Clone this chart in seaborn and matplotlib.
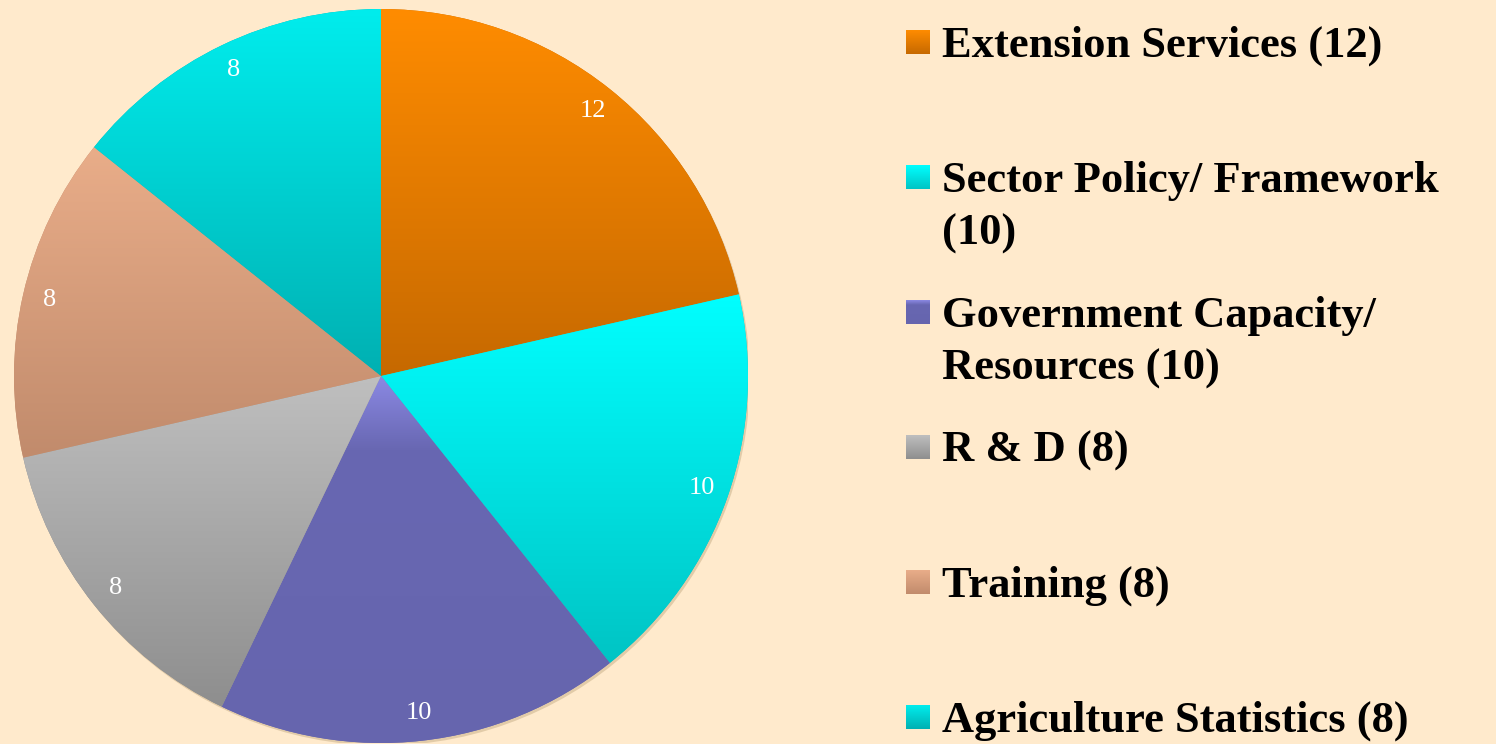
import numpy as np
import matplotlib
matplotlib.use("Agg")
import matplotlib.pyplot as plt
from matplotlib.colors import LinearSegmentedColormap
from matplotlib.patches import Circle
import seaborn as sns

categories = ["Extension Services", "Sector Policy/ Framework", "Government Capacity/ Resources",
              "R & D", "Training", "Agriculture Statistics"]
values = [12, 10, 10, 8, 8, 8]
legend_labels = ["Extension Services (12)", "Sector Policy/ Framework\n(10)",
                 "Government Capacity/\nResources (10)", "R & D (8)", "Training (8)",
                 "Agriculture Statistics (8)"]

# vertical gradient stops for each slice (top -> bottom)
gradients = [
    [(0.0, "#FF8C00"), (1.0, "#C66900")],
    [(0.0, "#00FFFF"), (1.0, "#00C4C4")],
    [(0.0, "#8B89E3"), (0.2, "#6867B2"), (1.0, "#6665AE")],
    [(0.0, "#BFBFBF"), (1.0, "#8E8E8E")],
    [(0.0, "#E9AD89"), (1.0, "#C18B6C")],
    [(0.0, "#00EDED"), (1.0, "#00B0B2")],
]
bg = "#FFEACC"

sns.set_theme(style="white")
plt.rcParams["font.family"] = ["Liberation Serif", "DejaVu Serif"]

fig = plt.figure(figsize=(14.96, 7.44), dpi=100, facecolor=bg)
ax = fig.add_axes([14 / 1496, 1 / 744, 734 / 1496, 734 / 744])
ax.set_facecolor("none")

total = sum(values)
wedges, texts, autotexts = ax.pie(
    values, startangle=90, counterclock=False, radius=1,
    autopct=lambda p: f"{round(p * total / 100)}", pctdistance=0.925,
    colors=[g[-1][1] for g in gradients],
    textprops=dict(color="white", fontsize=19),
    wedgeprops=dict(linewidth=0, antialiased=True),
)

# soft shadow under the pie
ax.add_patch(Circle((0.005, -0.007), 1.0, color="#E2CBA8", zorder=0.2, lw=0))

grad = np.linspace(0, 1, 256).reshape(-1, 1)
for w, stops in zip(wedges, gradients):
    cmap = LinearSegmentedColormap.from_list("g", stops)
    bb = w.get_path().get_extents()
    im = ax.imshow(grad, cmap=cmap, extent=[bb.x0, bb.x1, bb.y0, bb.y1], origin="upper",
                   aspect="auto", zorder=1.5, interpolation="bilinear")
    im.set_clip_path(w)
for t in autotexts:
    t.set_zorder(3)

ax.set_xlim(-1, 1)
ax.set_ylim(-1, 1)
ax.set_aspect("equal")
ax.axis("off")

# legend drawn in pixel coordinates
lg = fig.add_axes([0, 0, 1, 1])
lg.set_facecolor("none")
for i, (label, stops) in enumerate(zip(legend_labels, gradients)):
    yc = 42 + 135 * i
    cmap = LinearSegmentedColormap.from_list("g", stops)
    lg.imshow(grad, cmap=cmap, extent=[906, 930, yc + 12, yc - 12], origin="upper",
              aspect="auto", interpolation="bilinear")
    for j, line in enumerate(label.split("\n")):
        lg.text(942, yc + 15 + 53 * j, line, fontsize=32, fontweight="bold",
                color="black", va="baseline", ha="left")
lg.set_xlim(0, 1496)
lg.set_ylim(744, 0)
lg.axis("off")

fig.savefig("out.png", dpi=100, facecolor=bg)
